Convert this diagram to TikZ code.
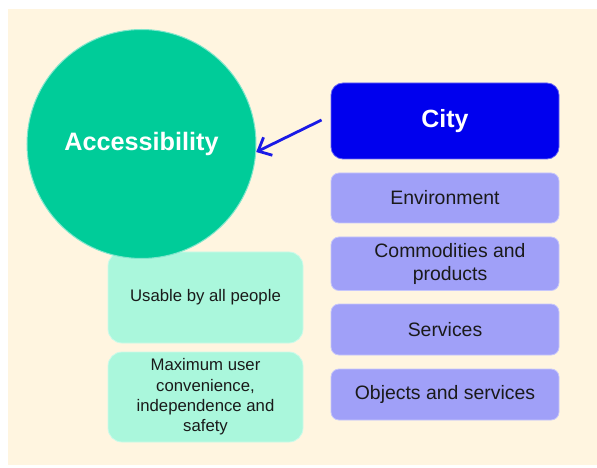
\documentclass[tikz,border=0pt]{standalone}
\usepackage{fontspec}
\setmainfont{Liberation Sans}
\usetikzlibrary{arrows.meta}
\definecolor{cream}{HTML}{FFF5E0}
\definecolor{circlegreen}{HTML}{00CC99}
\definecolor{lightgreen}{HTML}{AAF7DC}
\definecolor{cityblue}{HTML}{0000EE}
\definecolor{lavender}{HTML}{A0A0F8}
\definecolor{arrowblue}{HTML}{1A1AE6}
\definecolor{txt}{HTML}{1A1A1A}
\tikzset{
  itembox/.style={rectangle, rounded corners=8bp, fill=lavender, draw=lavender!60!white, line width=0.8bp,
    minimum width=228bp, inner sep=0pt, align=center, text=txt,
    font=\fontsize{19.5}{23}\selectfont},
  citybox/.style={rectangle, rounded corners=12bp, fill=cityblue, draw=cityblue!60!white, line width=0.8bp,
    minimum width=228bp, minimum height=76bp, inner sep=0pt, text=white,
    font=\fontsize{25}{28}\selectfont\bfseries},
  greenbox/.style={rectangle, rounded corners=14bp, fill=lightgreen, draw=lightgreen!60!white, line width=0.8bp,
    minimum width=195bp, inner sep=0pt, align=center, text=txt,
    font=\fontsize{16.8}{20.3}\selectfont},
  bigcircle/.style={circle, fill=circlegreen, draw=circlegreen!50!white, line width=1bp,
    minimum size=229bp, inner sep=0pt, text=white,
    font=\fontsize{25.3}{28}\selectfont\bfseries},
  linkarrow/.style={draw=arrowblue, line width=2.8bp,
    -{Straight Barb[length=11bp, width=20bp, line width=2.8bp]}}
}
\begin{document}
\begin{tikzpicture}[x=1bp, y=-1bp]
\useasboundingbox (0,0) rectangle (597,468);
\fill[white] (0,0) rectangle (597,468);
\fill[cream] (8,9) rectangle (597,465);

\node[greenbox, minimum height=91bp] (usable) at (205.5,297.5) {Usable by all people};
\node[greenbox, minimum height=90bp] (maxconv) at (205.5,397) {Maximum user\\convenience,\\independence and\\safety};

\node[bigcircle] (acc) at (141.5,144) {Accessibility};

\node[citybox] (city) at (445,121) {City};
\node[itembox, minimum height=50bp] (env) at (445,198) {Environment};
\node[itembox, minimum height=53.5bp] (comm) at (445,263.75) {\hspace*{10bp}Commodities and\\\hspace*{10bp}products};
\node[itembox, minimum height=51bp] (serv) at (445,329.5) {Services};
\node[itembox, minimum height=51bp] (obj) at (445,394.5) {Objects and services};

\draw[linkarrow] ([xshift=-9bp,yshift=1bp]city.west) -- (acc.-4);
\end{tikzpicture}
\end{document}
